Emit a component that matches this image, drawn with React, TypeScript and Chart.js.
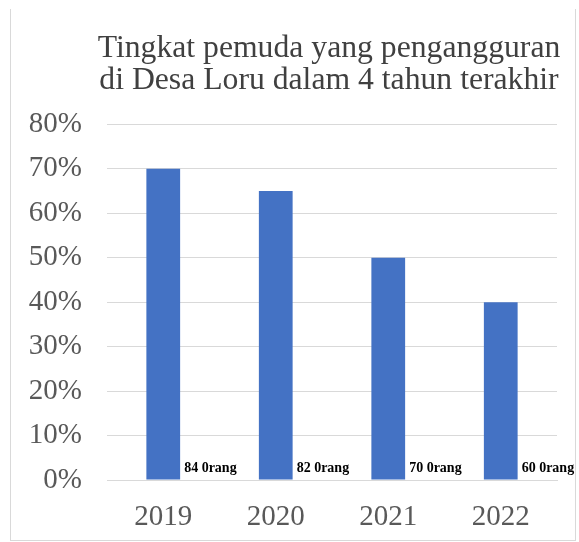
import { useEffect, useRef } from "react";
import { Chart, registerables } from "chart.js";

Chart.register(...registerables);

const titleLines = ["Tingkat pemuda yang pengangguran", "di Desa Loru dalam 4 tahun terakhir"];
const years = ["2019", "2020", "2021", "2022"];
const unemploymentPct = [70, 65, 50, 40];
const peopleLabels = ["84 0rang", "82 0rang", "70 0rang", "60 0rang"];
const yMin = 0;
const yMax = 80;
const yStep = 10;

const SERIF = "'Liberation Serif', 'Times New Roman', serif";

const barNotesPlugin = {
  id: "barNotes",
  afterDatasetsDraw(chart: any) {
    const ctx = chart.ctx;
    const meta = chart.getDatasetMeta(0);
    const y0 = chart.scales.y.getPixelForValue(0);
    ctx.save();
    ctx.font = `bold 14px ${SERIF}`;
    ctx.fillStyle = "#000000";
    ctx.textAlign = "left";
    ctx.textBaseline = "alphabetic";
    meta.data.forEach((bar: any, i: number) => {
      const right = bar.x + bar.width / 2;
      ctx.fillText(peopleLabels[i], right + 4, y0 - 8);
    });
    ctx.restore();
  },
};

// Center the title over the plot area (like the original) without squeezing it.
const titleCenterPlugin = {
  id: "titleCenter",
  afterLayout(chart: any) {
    const tb = chart.titleBlock;
    if (!tb) return;
    tb.left = chart.chartArea.left - 28;
    tb.right = chart.chartArea.right + 22;
  },
};

export default function App() {
  const canvasRef = useRef<HTMLCanvasElement | null>(null);

  useEffect(() => {
    if (!canvasRef.current) return;
    const chart = new Chart(canvasRef.current, {
      type: "bar",
      data: {
        labels: years,
        datasets: [
          {
            data: unemploymentPct,
            backgroundColor: "#4472C4",
            borderWidth: 0,
            categoryPercentage: 1,
            barPercentage: 0.3,
          },
        ],
      },
      options: {
        animation: false,
        responsive: false,
        devicePixelRatio: 1,
        layout: { padding: { top: 32, left: 0, right: 22, bottom: 0 } },
        plugins: {
          legend: { display: false },
          tooltip: { enabled: false },
          title: {
            display: true,
            text: titleLines,
            fullSize: true,
            color: "#404040",
            font: { family: SERIF, size: 31.7, weight: "normal", lineHeight: 1.03 },
            padding: { top: 0, bottom: 27 },
          },
        },
        scales: {
          y: {
            min: yMin,
            max: yMax,
            ticks: {
              stepSize: yStep,
              callback: (v: any) => `${v}%`,
              color: "#595959",
              font: { family: SERIF, size: 29 },
              padding: 25,
            },
            grid: { color: "#d9d9d9", drawTicks: false, lineWidth: 1 },
            border: { display: false },
            afterFit: (s: any) => {
              s.width = 107;
            },
          },
          x: {
            ticks: {
              color: "#595959",
              font: { family: SERIF, size: 29 },
              padding: 20,
            },
            grid: { display: false, drawTicks: false },
            border: { display: true, color: "#d9d9d9" },
            afterFit: (s: any) => {
              s.height = 62;
            },
          },
        },
      },
      plugins: [barNotesPlugin, titleCenterPlugin],
    });
    return () => chart.destroy();
  }, []);

  return (
    <div style={{ position: "absolute", left: 0, top: 0, width: 579, height: 542, background: "#fff" }}>
      <canvas ref={canvasRef} width={579} height={542} style={{ display: "block", width: 579, height: 542 }} />
      <div
        style={{
          position: "absolute",
          left: 10,
          top: 9,
          width: 564,
          height: 531,
          borderLeft: "1px solid #d9d9d9",
          borderRight: "1px solid #d9d9d9",
          borderBottom: "1px solid #d9d9d9",
          pointerEvents: "none",
        }}
      />
    </div>
  );
}
